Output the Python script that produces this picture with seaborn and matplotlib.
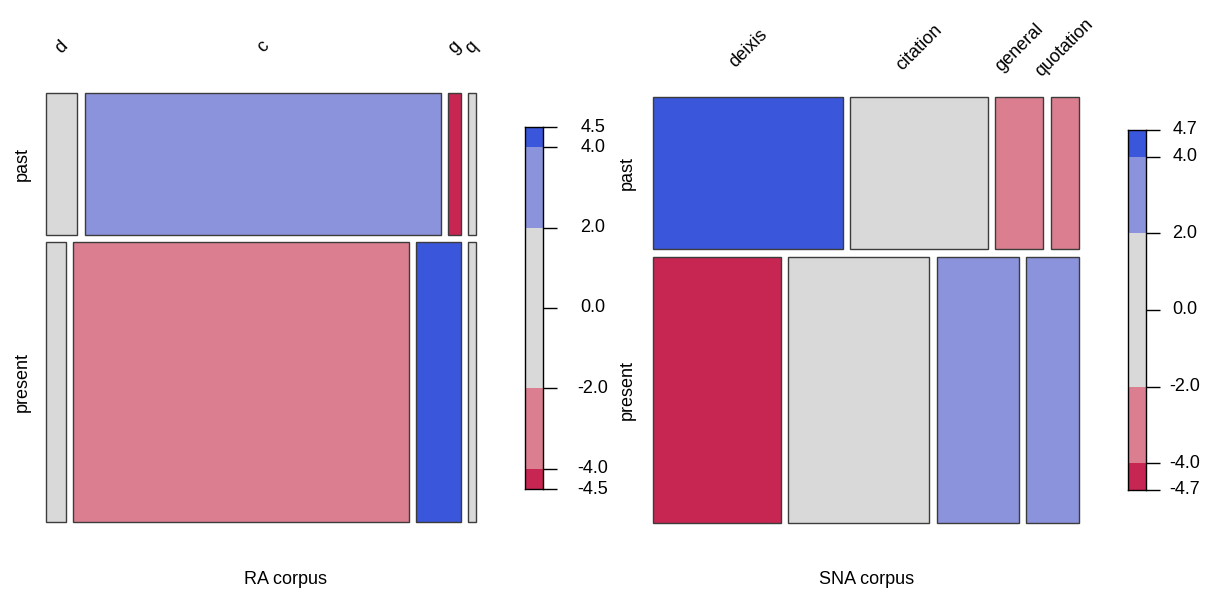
import numpy as np
import matplotlib
matplotlib.use("Agg")
import matplotlib.pyplot as plt
import matplotlib.transforms as mtransforms
import seaborn as sns

# ---------------- data ----------------
tense = ["past", "present"]

ra_types = ["d", "c", "g", "q"]
ra_past = [23, 262, 9, 6]
ra_present = [29, 487, 65, 11]
ra_resid_past = [1.3, 2.7, -4.5, 0.4]
ra_resid_present = [-1.0, -2.2, 4.5, -0.3]
ra_legend_ticks = [4.5, 4.0, 2.0, 0.0, -2.0, -4.0, -4.5]

sna_types = ["deixis", "citation", "general", "quotation"]
sna_past = [94, 68, 24, 14]
sna_present = [111, 122, 71, 46]
sna_resid_past = [4.7, 0.6, -2.8, -2.3]
sna_resid_present = [-4.7, -0.5, 2.6, 2.2]
sna_legend_ticks = [4.7, 4.0, 2.0, 0.0, -2.0, -4.0, -4.7]

titles = ["RA corpus", "SNA corpus"]

# ---------------- style ----------------
sns.set_theme(style="white")
plt.rcParams["font.family"] = ["Liberation Sans", "DejaVu Sans"]
plt.rcParams["axes.unicode_minus"] = False
plt.rcParams["text.color"] = "black"

shade_cols = {"dblue": "#3a57db", "lblue": "#8a93db", "grey": "#d9d9d9",
              "lred": "#db7e8f", "dred": "#c72552"}


def shade(r):
    if r > 4:
        return shade_cols["dblue"]
    if r > 2:
        return shade_cols["lblue"]
    if r >= -2:
        return shade_cols["grey"]
    if r >= -4:
        return shade_cols["lred"]
    return shade_cols["dred"]


FS = 13
W, H = 1214, 601
fig = plt.figure(figsize=(W / 100, H / 100), dpi=100)


def px_axes(x0, y0, x1, y1):
    return fig.add_axes([x0 / W, 1 - y1 / H, (x1 - x0) / W, (y1 - y0) / H])


def mosaic(ax, types, rows, resids, gap=0.017, label_y=47, row_label_x=22):
    rows = [np.asarray(r, float) for r in rows]
    totals = np.array([r.sum() for r in rows])
    nrow, ncol = len(rows), len(types)
    avail_v = 1 - gap * (nrow - 1)
    avail_h = 1 - gap * (ncol - 1)
    y = 0.0
    trans_lab = mtransforms.blended_transform_factory(ax.transData, fig.transFigure)
    trans_row = mtransforms.blended_transform_factory(fig.transFigure, ax.transData)
    for i, r in enumerate(rows):
        h = totals[i] / totals.sum() * avail_v
        x = 0.0
        for j in range(ncol):
            w = r[j] / r.sum() * avail_h
            ax.bar(x, h, width=w, bottom=y, align="edge", clip_on=False,
                   color=shade(resids[i][j]), edgecolor="#3c3c3c", linewidth=1.0)
            if i == 0:
                ax.text(x + w / 2, 1 - label_y / H, types[j], transform=trans_lab,
                        rotation=45, ha="center", va="center", fontsize=FS)
            x += w + gap
        ax.text(row_label_x / W, y + h / 2, tense[i], transform=trans_row,
                rotation=90, ha="center", va="center", fontsize=FS)
        y += h + gap
    ax.set_xlim(0, 1)
    ax.set_ylim(1, 0)
    ax.set_xticks([])
    ax.set_yticks([])
    for s in ax.spines.values():
        s.set_visible(False)


def legend(ax, ticks, label_x):
    m = max(abs(t) for t in ticks)
    edges = [-m, -4, -2, 2, 4, m]
    mids = [-4.2, -3, 0, 3, 4.2]
    for k in range(5):
        ax.bar(0, edges[k + 1] - edges[k], width=1, bottom=edges[k], align="edge",
               color=shade(mids[k]), linewidth=0)
    ax.set_xlim(0, 1)
    ax.set_ylim(-m, m)
    ax.set_xticks([])
    ax.yaxis.tick_right()
    ax.set_yticks(ticks)
    ax.set_yticklabels([])
    ax.tick_params(axis="y", direction="out", length=10, width=1.0,
                   color="black", right=True, left=False)
    trans = mtransforms.blended_transform_factory(fig.transFigure, ax.transData)
    for t in ticks:
        ax.text(label_x / W, t, f"{t:.1f}", transform=trans, ha="center",
                va="center", fontsize=FS, color="black")
    for s in ax.spines.values():
        s.set_visible(True)
        s.set_color("black")
        s.set_linewidth(1.0)


ax1 = px_axes(46, 93, 476, 522)
mosaic(ax1, ra_types, [ra_past, ra_present], [ra_resid_past, ra_resid_present],
       label_y=47, row_label_x=22)
lg1 = px_axes(525, 127, 543, 489)
legend(lg1, ra_legend_ticks, 593)

ax2 = px_axes(653, 97, 1079, 523)
mosaic(ax2, sna_types, [sna_past, sna_present], [sna_resid_past, sna_resid_present],
       label_y=48, row_label_x=627)
lg2 = px_axes(1128, 130, 1146, 490)
legend(lg2, sna_legend_ticks, 1185)

fig.text(286 / W, 1 - 580 / H, titles[0], ha="center", va="center", fontsize=FS)
fig.text(867 / W, 1 - 580 / H, titles[1], ha="center", va="center", fontsize=FS)

fig.savefig("out.png", dpi=100, facecolor="white")
